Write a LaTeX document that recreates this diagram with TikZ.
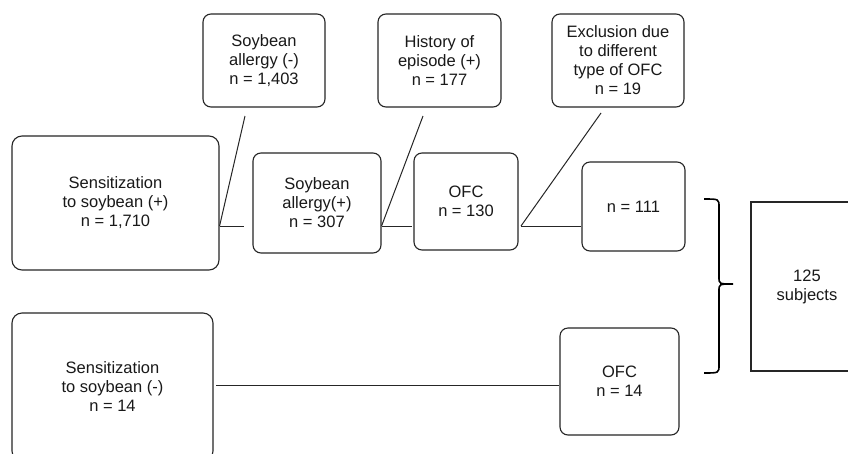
\documentclass[tikz,border=0pt]{standalone}
\usepackage{fontspec}
\setmainfont{Liberation Sans}
\begin{document}
\begin{tikzpicture}[x=1pt,y=-1pt,
  box/.style={draw=black!85, line width=1.1pt, rounded corners=8pt, inner sep=0pt,
    align=center, text=black!90, font=\fontsize{16.5}{19}\selectfont},
  sqbox/.style={box, rounded corners=0pt},
  conn/.style={draw=black!85, line width=1pt},
  bracestyle/.style={draw=black, line width=1.6pt}]
\useasboundingbox (0,0) rectangle (848,453);
\clip (0,0) rectangle (848,453);
\fill[white] (0,0) rectangle (848,453);

\node[box, rounded corners=10pt, minimum width=207pt, minimum height=134pt] (sp) at (115.5,203) {Sensitization\\to soybean (+)\\n = 1,710};
\node[box, minimum width=122pt, minimum height=93pt] (am) at (264,60.5) {Soybean\\allergy (-)\\n = 1,403};
\node[box, minimum width=128pt, minimum height=100pt] (ap) at (317,203) {Soybean\\allergy(+)\\n = 307};
\node[box, minimum width=123pt, minimum height=93pt] (hist) at (439.5,60.5) {History of\\episode (+)\\n = 177};
\node[box, minimum width=104pt, minimum height=97pt] (ofc) at (466,201.5) {OFC\\n = 130};
\node[box, minimum width=132pt, minimum height=93pt] (excl) at (618,60.5) {Exclusion due\\to different\\type of OFC\\n = 19};
\node[box, minimum width=103pt, minimum height=89pt] (n111) at (633.5,206.5) {n = 111};
\node[box, rounded corners=10pt, minimum width=201pt, minimum height=148pt] (sm) at (112.5,387) {Sensitization\\to soybean (-)\\n = 14};
\node[box, minimum width=119pt, minimum height=107pt] (ofcb) at (619.5,381.5) {OFC\\n = 14};
\node[sqbox, minimum width=112pt, minimum height=169pt] (tot) at (807,286.5) {125\\subjects};

% connector end points
\coordinate (c1) at (244,226);
\coordinate (d1) at (245,116);
\coordinate (c2) at (412,226);
\coordinate (d2) at (423,116);
\coordinate (j3) at (521,226);
\coordinate (d3) at (601,113);
\coordinate (l4) at (216,385);

\draw[conn] (sp.east |- c1) -- (c1);
\draw[conn] (sp.east |- c1) -- (d1);
\draw[conn] (ap.east |- c2) -- (c2);
\draw[conn] (ap.east |- c2) -- (d2);
\draw[conn] (j3) -- (n111.west |- j3);
\draw[conn] (j3) -- (d3);
\draw[conn] (l4) -- (ofcb.west |- l4);

% brace
\coordinate (bt) at (704,199);
\coordinate (bm) at (733,284);
\coordinate (bb) at (704,373);
\draw[bracestyle] (bt) .. controls (719,199) .. (719,207) -- (719,277)
  .. controls (719,284) .. (bm)
  .. controls (719,284) .. (719,291) -- (719,365)
  .. controls (719,373) .. (bb);
\end{tikzpicture}
\end{document}
